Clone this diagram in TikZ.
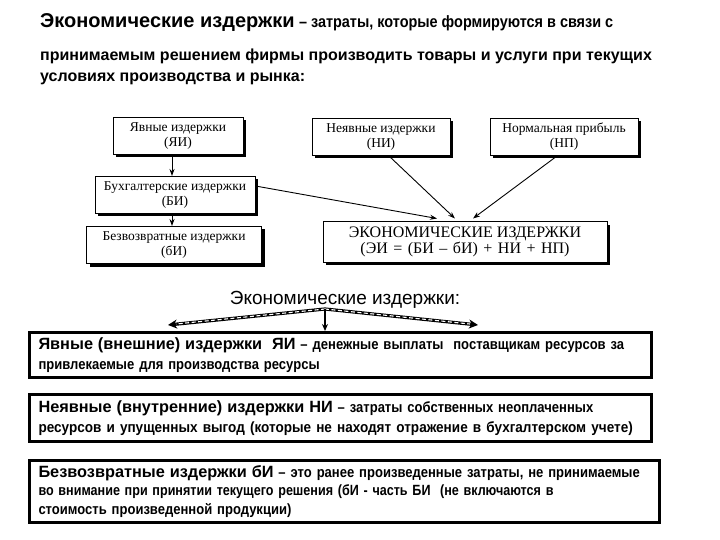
\documentclass[tikz,border=0pt]{standalone}
\usepackage{fontspec}
\usepackage{graphicx}
\setmainfont{Liberation Serif}
\newfontfamily\hs{Liberation Sans}
\newfontfamily\hsn[FakeStretch=0.88]{Liberation Sans}
\usetikzlibrary{arrows.meta,shadows}
\begin{document}
\begin{tikzpicture}[x=1pt,y=-1pt,
  ubox/.style={draw, line width=1pt, fill=white, align=center, inner sep=2pt,
    minimum height=37pt, font=\fontsize{13.5}{15}\selectfont,
    drop shadow={shadow xshift=3pt, shadow yshift=-3pt, fill=black, opacity=1}},
  uarr/.style={line width=0.9pt, -{Stealth[length=7pt,width=5pt]}},
  tline/.style={anchor=base west, inner sep=0pt, font=\hs\bfseries\fontsize{16}{19}\selectfont},
  lbox/.style={draw, line width=3pt, anchor=north west, align=left, inner xsep=9pt, inner ysep=0pt,
    font=\hsn\bfseries\fontsize{14.8}{20.5}\selectfont},
  sarr/.style={line width=3.2pt, -{Stealth[length=9pt,width=9pt]}},
  sdash/.style={white, line width=1.1pt, dash pattern=on 4pt off 2.5pt}
]
\newcommand{\bigtxt}[1]{{\hs\bfseries\fontsize{16.3}{20}\selectfont #1}}
\newcommand{\es}{\hspace{5.5pt}}
\path[use as bounding box] (0,0) rectangle (720,540);
% title
\node[tline] (t1) at (40,28) {{\fontsize{20}{24}\selectfont Экономические издержки} {\hsn\fontsize{16.4}{19}\selectfont – затраты, которые формируются в связи с}};
\node[tline] (t2) at (40,61) {принимаемым решением фирмы производить товары и услуги при текущих};
\node[tline] (t3) at (40,82) {условиях производства и рынка:};
% upper diagram
\node[ubox, minimum width=130pt] (yi) at (178,136) {Явные издержки\\(ЯИ)};
\node[ubox, minimum width=160pt] (bi) at (175,195) {Бухгалтерские издержки\\(БИ)};
\node[ubox, minimum width=175pt] (sbi) at (174,245) {Безвозвратные издержки\\(бИ)};
\node[ubox, minimum width=138pt] (ni) at (381,137) {Неявные издержки\\(НИ)};
\node[ubox, minimum width=148pt] (np) at (564,137) {Нормальная прибыль\\(НП)};
\node[ubox, minimum width=284pt, minimum height=40pt, font=\fontsize{16}{16.5}\selectfont] (ei) at (465,242) {ЭКОНОМИЧЕСКИЕ ИЗДЕРЖКИ\\(ЭИ\es=\es(БИ\es–\es бИ)\es+\es НИ\es+\es НП)};
\draw[uarr] (yi.south -| 172,0) -- (bi.north -| 172,0);
\draw[uarr] (bi.south -| 172,0) -- (sbi.north -| 172,0);
\draw[uarr] ([yshift=9pt]bi.east) -- ([xshift=-28pt,yshift=3pt]ei.north);
\draw[uarr] ([xshift=8pt]ni.south) -- ([xshift=-10pt,yshift=3pt]ei.north);
\draw[uarr] ([xshift=-7pt]np.south) -- ([xshift=8pt,yshift=3pt]ei.north);
% lower part
\node[anchor=base, inner sep=0pt, font=\hs\fontsize{19}{22}\selectfont] (ek) at (345,304) {Экономические издержки:};
\node[lbox, text width=604pt, minimum height=45pt] (b1) at (28,331)
 {\mbox{\bigtxt{Явные (внешние) издержки\ \ ЯИ} – денежные выплаты\ \ поставщикам ресурсов за}\\\mbox{привлекаемые для производства ресурсы}};
\node[lbox, text width=604pt, minimum height=47pt] (b2) at (28,393)
 {\mbox{\bigtxt{Неявные (внутренние) издержки НИ} – затраты собственных неоплаченных}\\\scalebox{1.04}[1]{ресурсов и упущенных выгод (которые не находят отражение в бухгалтерском учете)}};
\node[lbox, text width=612pt, minimum height=62pt, font=\hsn\bfseries\fontsize{14.8}{18.5}\selectfont] (b3) at (28,459)
 {\mbox{\bigtxt{Безвозвратные издержки бИ} – это ранее произведенные затраты, не принимаемые}\\\scalebox{0.965}[1]{во внимание при принятии текущего решения (бИ - часть БИ\ \ (не включаются в}\\\mbox{стоимость произведенной продукции)}};
\coordinate (apex) at (325,309);
\draw[sarr] (apex) -- ([xshift=140pt,yshift=6pt]b1.north west);
\draw[sdash] (apex) -- ([xshift=148pt,yshift=7pt]b1.north west);
\draw[sarr] (apex) -- ([xshift=450pt,yshift=6pt]b1.north west);
\draw[sdash] (apex) -- ([xshift=442pt,yshift=7pt]b1.north west);
\draw[line width=1.5pt, -{Stealth[length=7pt,width=6pt]}] (apex) -- (apex |- b1.north);
\end{tikzpicture}
\end{document}
